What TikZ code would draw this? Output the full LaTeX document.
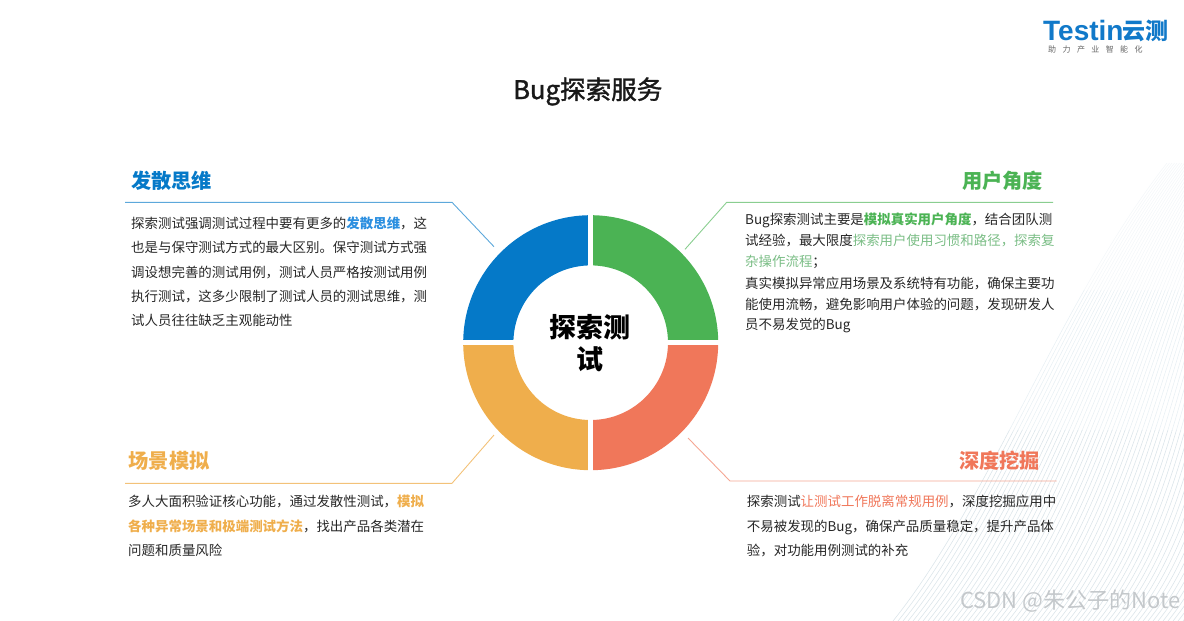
\documentclass[tikz,border=0pt]{standalone}
\usepackage{fontspec}
\setmainfont{Noto Sans CJK SC}
\newfontfamily\logofont{Liberation Sans}
\newfontfamily\titlefont[FakeBold=1.5]{Noto Sans CJK SC}
\definecolor{inkc}{HTML}{262626}
\definecolor{bluec}{HTML}{0579C8}
\definecolor{bluet}{HTML}{2B8FE0}
\definecolor{greenc}{HTML}{4BB354}
\definecolor{greenl}{HTML}{7ABD85}
\definecolor{orangec}{HTML}{EFAE4C}
\definecolor{redc}{HTML}{F0775A}
\definecolor{logoc}{HTML}{1179C9}
\definecolor{wmc}{HTML}{C4C8CB}
\definecolor{stripea}{HTML}{DCE5EA}
\definecolor{stripeb}{HTML}{E9F0F4}
\definecolor{stripec}{HTML}{F4F7F9}
\newcommand{\bt}[2]{{\bfseries\color{#1}#2}}
\newcommand{\stripeset}[1]{\foreach \i in {0,...,72}{
    \draw[stripe,color=#1] ({893+\i*5},621) .. controls ({990+\i*5},500) and ({1060+\i*3.4},300) .. ({1167+\i*2.5},163);
  }}
\tikzset{
  bodyline/.style={anchor=base west,inner sep=0pt,text=inkc,font=\fontsize{13.45}{16}\selectfont},
  headline/.style={anchor=base west,inner sep=0pt,font=\fontsize{20.2}{24}\selectfont\bfseries},
  leader/.style={line width=0.9pt},
  stripe/.style={line width=0.6pt}
}
\begin{document}
\begin{tikzpicture}[x=1pt,y=-1pt]
\useasboundingbox (0,0) rectangle (1184,621);
% background stripes
\begin{scope}
  \clip (880,430) rectangle (1184,621);
  \stripeset{stripea}
\end{scope}
\begin{scope}
  \clip (880,290) rectangle (1184,430);
  \stripeset{stripeb}
\end{scope}
\begin{scope}
  \clip (880,150) rectangle (1184,290);
  \stripeset{stripec}
\end{scope}
% ring
\coordinate (c) at (590.7,342.7);
\fill[bluec] (c) ++(-127.5,0) arc[start angle=180,end angle=90,radius=127.5pt] -- ++(0,50.2) arc[start angle=90,end angle=180,radius=77.3pt] -- cycle;
\fill[greenc] (c) ++(127.5,0) arc[start angle=0,end angle=90,radius=127.5pt] -- ++(0,50.2) arc[start angle=90,end angle=0,radius=77.3pt] -- cycle;
\fill[orangec] (c) ++(-127.5,0) arc[start angle=180,end angle=270,radius=127.5pt] -- ++(0,-50.2) arc[start angle=270,end angle=180,radius=77.3pt] -- cycle;
\fill[redc] (c) ++(127.5,0) arc[start angle=0,end angle=-90,radius=127.5pt] -- ++(0,-50.2) arc[start angle=-90,end angle=0,radius=77.3pt] -- cycle;
\draw[white,line width=5pt] (590.7,210) -- (590.7,475);
\draw[white,line width=4.5pt] (458,342.7) -- (723,342.7);
\node[inner sep=0pt,align=center,text=black,font=\fontsize{27}{32.5}\selectfont\bfseries] (center) at (590,343) {探索测\\试};
% title
\node[anchor=base west,inner sep=0pt,text=black!90,font=\titlefont\fontsize{25.6}{30}\selectfont] (title) at (513,99) {Bug探索服务};
% logo
\node[anchor=base west,inner sep=0pt,text=logoc,font=\logofont\fontsize{28}{30}\selectfont\bfseries] (logoa) at (1043,40) {Testin};
\node[anchor=base west,inner sep=0pt,text=logoc,font=\fontsize{23}{26}\selectfont\bfseries] (logob) at (1122,39) {云测};
\node[anchor=base west,inner sep=0pt,text=black!60,font=\fontsize{8}{9}\selectfont] (logoc) at (1048,52) {助\hspace{6.4pt}力\hspace{6.4pt}产\hspace{6.4pt}业\hspace{6.4pt}智\hspace{6.4pt}能\hspace{6.4pt}化};
% leaders
\coordinate (tla) at (125,202.3); \coordinate (tlb) at (452,202.3); \coordinate (tlc) at (494,246.7);
\coordinate (tra) at (685,249.3); \coordinate (trb) at (726.7,202.3); \coordinate (trc) at (1053,202.3);
\coordinate (bla) at (125,483.3); \coordinate (blb) at (452,483.3); \coordinate (blc) at (494,435);
\coordinate (bra) at (688,438); \coordinate (brb) at (730,481); \coordinate (brc) at (1056.7,481);
\draw[leader,color=bluec!65!white] (tla) -- (tlb) -- (tlc);
\draw[leader,color=greenc!65!white] (tra) -- (trb) -- (trc);
\draw[leader,color=orangec!75!white] (bla) -- (blb) -- (blc);
\draw[leader,color=redc!65!white] (bra) -- (brb) -- (brc);
% headings
\node[headline,text=bluec] (h1) at (131,188) {发散思维};
\node[headline,text=greenc] (h2) at (962,188) {用户角度};
\node[headline,text=orangec] (h3) at (128.5,468.5) {场景模拟};
\node[headline,text=redc] (h4) at (959,468.5) {深度挖掘};
% top left
\node[bodyline] (a1) at (131,228) {探索测试强调测试过程中要有更多的\bt{bluet}{发散思维}，这};
\node[bodyline] (a2) at (131,252.7) {也是与保守测试方式的最大区别。保守测试方式强};
\node[bodyline] (a3) at (131,277.7) {调设想完善的测试用例，测试人员严格按测试用例};
\node[bodyline] (a4) at (131,301) {执行测试，这多少限制了测试人员的测试思维，测};
\node[bodyline] (a5) at (131,325) {试人员往往缺乏主观能动性};
% top right
\node[bodyline] (b1) at (745,224.3) {Bug探索测试主要是\bt{greenc}{模拟真实用户角度}，结合团队测};
\node[bodyline] (b2) at (745,245.7) {试经验，最大限度{\color{greenl}探索用户使用习惯和路径，探索复}};
\node[bodyline] (b3) at (745,266.7) {{\color{greenl}杂操作流程}；};
\node[bodyline] (b4) at (745,288) {真实模拟异常应用场景及系统特有功能，确保主要功};
\node[bodyline] (b5) at (745,309) {能使用流畅，避免影响用户体验的问题，发现研发人};
\node[bodyline] (b6) at (745,329.7) {员不易发觉的Bug};
% bottom left
\node[bodyline] (c1) at (128,506.7) {多人大面积验证核心功能，通过发散性测试，\bt{orangec}{模拟}};
\node[bodyline] (c2) at (128,531) {\bt{orangec}{各种异常场景和极端测试方法}，找出产品各类潜在};
\node[bodyline] (c3) at (128,555) {问题和质量风险};
% bottom right
\node[bodyline] (d1) at (746.7,506.7) {探索测试{\color{redc}让测试工作脱离常规用例}，深度挖掘应用中};
\node[bodyline] (d2) at (746.7,531) {不易被发现的Bug，确保产品质量稳定，提升产品体};
\node[bodyline] (d3) at (746.7,555.7) {验，对功能用例测试的补充};
% watermark
\node[anchor=base west,inner sep=0pt,text=wmc,font=\fontsize{22}{24}\selectfont] (wm) at (960,608.5) {CSDN @朱公子的Note};
\end{tikzpicture}
\end{document}
